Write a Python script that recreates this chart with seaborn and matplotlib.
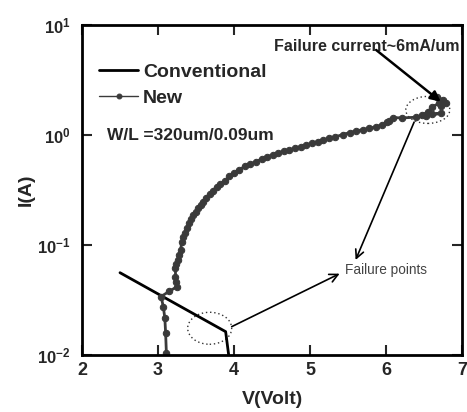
import numpy as np
import pandas as pd
import matplotlib
matplotlib.use("Agg")
import matplotlib.pyplot as plt
import seaborn as sns
from matplotlib.patches import Ellipse

# ---------------- data ----------------
conv_v = [2.50, 3.89, 3.93]
conv_i = [0.056, 0.0163, 0.0100]

new_v = [3.11, 3.10, 3.09, 3.07, 3.04, 3.15, 3.25, 3.24, 3.23, 3.23, 3.24, 3.26,
         3.28, 3.30, 3.31, 3.33, 3.35, 3.38, 3.41, 3.44, 3.46, 3.50, 3.53, 3.56,
         3.59, 3.63, 3.68, 3.72, 3.77, 3.82, 3.88, 3.94, 4.00, 4.07, 4.14, 4.21,
         4.29, 4.37, 4.44, 4.51, 4.58, 4.66, 4.73, 4.80, 4.88, 4.95, 5.02, 5.10,
         5.17, 5.25, 5.33, 5.43, 5.52, 5.61, 5.70, 5.78, 5.87, 5.95, 6.01, 6.04,
         6.09, 6.21, 6.39, 6.53, 6.72, 6.60, 6.48, 6.55, 6.61, 6.70, 6.67, 6.75,
         6.79, 6.72]
new_i = [0.0105, 0.016, 0.0216, 0.0275, 0.034, 0.038, 0.0418, 0.0465, 0.0515,
         0.0614, 0.067, 0.073, 0.081, 0.090, 0.107, 0.117, 0.128, 0.142, 0.157,
         0.172, 0.187, 0.200, 0.215, 0.231, 0.248, 0.270, 0.290, 0.310, 0.339,
         0.360, 0.380, 0.420, 0.450, 0.480, 0.520, 0.545, 0.571, 0.610, 0.635,
         0.658, 0.690, 0.710, 0.730, 0.760, 0.785, 0.811, 0.840, 0.870, 0.900,
         0.930, 0.960, 1.010, 1.050, 1.090, 1.120, 1.150, 1.190, 1.240, 1.300,
         1.340, 1.440, 1.430, 1.450, 1.500, 1.570, 1.550, 1.530, 1.620, 1.810,
         1.940, 2.200, 2.100, 1.940, 1.850]

series_labels = ["Conventional", "New"]
x_ticks = [2, 3, 4, 5, 6, 7]
y_ticks = [1e-2, 1e-1, 1e0, 1e1]
y_tick_labels = [r"$\mathbf{10^{-2}}$", r"$\mathbf{10^{-1}}$",
                 r"$\mathbf{10^{0}}$", r"$\mathbf{10^{1}}$"]
x_label = "V(Volt)"
y_label = "I(A)"
wl_text = "W/L =320um/0.09um"
fail_cur_text = "Failure current~6mA/um"
fail_pts_text = "Failure points"

# ---------------- style ----------------
sns.set_style("ticks")
plt.rcParams["font.family"] = ["Liberation Sans", "DejaVu Sans"]
plt.rcParams["font.weight"] = "bold"
plt.rcParams["mathtext.fontset"] = "custom"
plt.rcParams["mathtext.bf"] = "Liberation Sans:bold"
plt.rcParams["mathtext.rm"] = "Liberation Sans"

fig = plt.figure(figsize=(4.67, 4.12), dpi=100)
ax = fig.add_axes([82 / 467, 1 - 355 / 412, 380 / 467, 330 / 412])

df_conv = pd.DataFrame({"V": conv_v, "I": conv_i})
df_new = pd.DataFrame({"V": new_v, "I": new_i})

sns.lineplot(data=df_conv, x="V", y="I", sort=False, estimator=None, ax=ax,
             color="black", lw=2.0, label=series_labels[0])
sns.lineplot(data=df_new, x="V", y="I", sort=False, estimator=None, ax=ax,
             color="#3a3a3a", lw=2.0, marker="o", markersize=4.6,
             markeredgecolor="#3a3a3a", label=series_labels[1])

ax.set_yscale("log")
ax.set_xlim(2, 7)
ax.set_ylim(1e-2, 1e1)
ax.set_xticks(x_ticks)
ax.set_xticklabels([str(t) for t in x_ticks], fontsize=13, fontweight="bold")
ax.set_yticks(y_ticks)
ax.set_yticklabels(y_tick_labels, fontsize=12)
ax.yaxis.set_minor_locator(matplotlib.ticker.NullLocator())
ax.tick_params(direction="in", length=7, width=1.5, top=True, right=True,
               pad=5)
ax.tick_params(axis="y", pad=8)
for s in ax.spines.values():
    s.set_linewidth(2.0)
    s.set_color("black")

ax.set_xlabel(x_label, fontsize=14, fontweight="bold", labelpad=9)
ax.set_ylabel(y_label, fontsize=14, fontweight="bold", labelpad=2)

leg = ax.legend(loc="upper left", bbox_to_anchor=(0.045, 0.884), frameon=False,
                fontsize=14, handlelength=2.0, handletextpad=0.25,
                labelspacing=0.45, borderpad=0, borderaxespad=0)
for t in leg.get_texts():
    t.set_fontweight("bold")
leg.legend_handles[1].set_linewidth(1.0)
leg.legend_handles[1].set_markersize(3.5)

ax.text(2.33, 1.0, wl_text, fontsize=12.5, fontweight="bold", va="center",
        ha="left")

# --- ellipses (drawn in axes coordinates so they stay elliptical on log scale)
def data_to_axes(v, i):
    disp = ax.transData.transform((v, i))
    return ax.transAxes.inverted().transform(disp)

for (v, i, w, h) in [(3.68, 0.0175, 44, 32), (6.55, 1.69, 44, 27)]:
    cx, cy = data_to_axes(v, i)
    e = Ellipse((cx, cy), w / 380, h / 330, transform=ax.transAxes,
                fill=False, ls=(0, (1, 2)), lw=1.0, ec="#333333")
    ax.add_patch(e)

# --- annotations
ax.text(4.52, 6.4, fail_cur_text, fontsize=11.5, fontweight="bold",
        va="center", ha="left")
ax.annotate("", xy=(6.72, 2.01), xytext=(5.87, 5.93),
            arrowprops=dict(arrowstyle="-|>,head_length=0.6,head_width=0.3",
                            color="black", lw=1.8, shrinkA=0, shrinkB=0))
ax.text(5.46, 0.0593, fail_pts_text, fontsize=9.8, fontweight="normal",
        va="center", ha="left", color="#444444")
ax.annotate("", xy=(5.39, 0.0549), xytext=(3.97, 0.0181),
            arrowprops=dict(arrowstyle="->,head_length=0.6,head_width=0.3",
                            color="black", lw=1.2, shrinkA=0, shrinkB=0))
ax.annotate("", xy=(5.60, 0.0731), xytext=(6.37, 1.31),
            arrowprops=dict(arrowstyle="->,head_length=0.6,head_width=0.3",
                            color="black", lw=1.2, shrinkA=0, shrinkB=0))

fig.savefig("out.png", dpi=100)
